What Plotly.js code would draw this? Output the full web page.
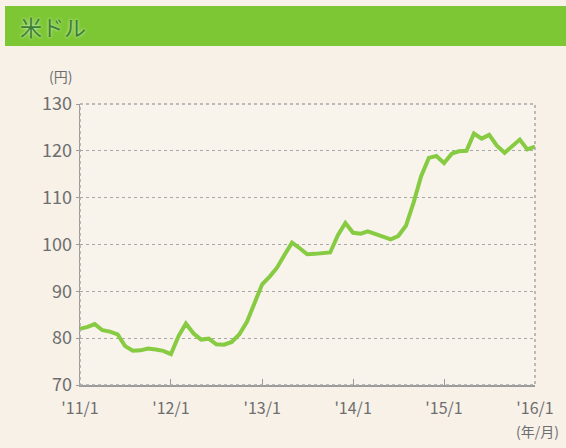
<!DOCTYPE html>
<html>
<head>
<meta charset="utf-8">
<script src="https://cdn.plot.ly/plotly-3.0.1.min.js"></script>
<style>
html,body{margin:0;padding:0;background:#f7f1e8;}
#chart{width:566px;height:448px;}
</style>
</head>
<body>
<div id="chart"></div>
<script>
// Monthly USD/JPY values, Jan 2011 .. Jan 2016
const startYear = 2011;
const usdJpy = [
  82.0, 82.4, 83.0, 81.7, 81.4, 80.8, 78.3, 77.3, 77.4, 77.8, 77.6, 77.3,
  76.6, 80.5, 83.1, 81.0, 79.7, 79.9, 78.7, 78.6, 79.2, 80.8, 83.5, 87.5,
  91.5, 93.2, 95.0, 97.8, 100.4, 99.2, 97.9, 98.0, 98.1, 98.3, 102.0, 104.6,
  102.5, 102.3, 102.8, 102.2, 101.6, 101.1, 101.8, 104.0, 109.0, 114.6, 118.5, 118.9,
  117.4, 119.4, 119.9, 120.0, 123.7, 122.6, 123.4, 121.1, 119.6, 121.0, 122.4, 120.3,
  120.9
];
const tickDates = ['2011-01-01','2012-01-01','2013-01-01','2014-01-01','2015-01-01','2016-01-01'];
const tickLabels = ["'11/1", "'12/1", "'13/1", "'14/1", "'15/1", "'16/1"];
const yTicks = [70, 80, 90, 100, 110, 120, 130];
const chartTitle = '米ドル';
const yUnit = '(円)';
const xUnit = '(年/月)';

const months = usdJpy.map((_, i) => {
  const y = startYear + Math.floor(i / 12);
  const m = (i % 12) + 1;
  return y + '-' + String(m).padStart(2, '0') + '-01';
});

const trace = {
  x: months, y: usdJpy, type: 'scatter', mode: 'lines',
  line: {color: '#86cb42', width: 4, shape: 'linear'},
  hoverinfo: 'skip'
};

const gray = '#6e6e6e';
const layout = {
  width: 566, height: 448,
  margin: {l: 80, r: 31, t: 104, b: 63},
  paper_bgcolor: '#f7f1e8',
  plot_bgcolor: '#f8f3eb',
  showlegend: false,
  font: {family: 'Noto Sans CJK JP, Noto Sans, sans-serif', color: gray},
  xaxis: {
    type: 'date', range: ['2011-01-01', '2016-01-01'],
    tickvals: tickDates, ticktext: tickLabels,
    showgrid: false, zeroline: false,
    showline: true, linecolor: '#9a9a9a', linewidth: 1.5,
    ticks: 'inside', ticklen: 6, tickcolor: '#9a9a9a', tickwidth: 1,
    tickfont: {size: 16, color: gray}, ticklabelstandoff: 8,
    fixedrange: true
  },
  yaxis: {
    range: [70, 130], tickvals: yTicks,
    showgrid: true, gridcolor: '#a8a8a8', gridwidth: 1, griddash: 'dot',
    zeroline: false,
    showline: true, linecolor: '#9a9a9a', linewidth: 1.5,
    ticks: 'outside', ticklen: 3, tickcolor: '#9a9a9a',
    tickfont: {size: 18, color: gray},
    fixedrange: true
  },
  shapes: [
    {type: 'rect', xref: 'paper', yref: 'paper', x0: 0, x1: 1, y0: 0, y1: 1,
     line: {color: '#a8a8a8', width: 1.5, dash: 'dot'}, layer: 'above'},
    {type: 'rect', xref: 'paper', yref: 'paper',
     x0: -75/455, x1: 1 + 31/455, y0: 1 + 58/281, y1: 1 + 98/281,
     fillcolor: '#7dc734', line: {width: 0}, layer: 'below'}
  ],
  annotations: [
    {text: chartTitle, xref: 'paper', yref: 'paper', x: -62/455, y: 1 + 78/281,
     xanchor: 'left', yanchor: 'middle', showarrow: false,
     font: {size: 22, color: '#3b8236', shadow: '0 0 3px #e6f5d6'}},
    {text: yUnit, xref: 'paper', yref: 'paper', x: -20/455, y: 1 + 28/281,
     xanchor: 'center', yanchor: 'middle', showarrow: false,
     font: {size: 14, color: gray}},
    {text: xUnit, xref: 'paper', yref: 'paper', x: 1 + 26/455, y: -46/281,
     xanchor: 'right', yanchor: 'middle', showarrow: false,
     font: {size: 14, color: gray}}
  ]
};

Plotly.newPlot('chart', [trace], layout, {staticPlot: true, displayModeBar: false});
</script>
</body>
</html>
